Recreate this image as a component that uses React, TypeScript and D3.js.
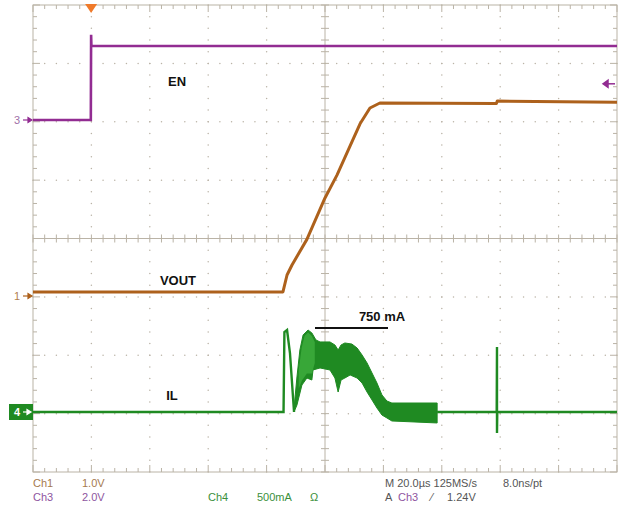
import React from 'react';
import * as d3 from 'd3';

// Time axis (µs), 20 µs/div, 10 divisions
const timeTicks = [-100, -80, -60, -40, -20, 0, 20, 40, 60, 80, 100];
const divTicks = [-4, -3, -2, -1, 0, 1, 2, 3, 4];

// Ch3 EN (V)
const enT = [-100, -80.2, -80.1, -80.0, -79.8, 100];
const enV = [0, 0, 2.92, 2.55, 2.535, 2.535];

// Ch1 VOUT (V)
const voutT = [-100, -14.4, -13.0, -11.3, -6.2, 0, 4.1, 8.6, 12.0, 15.4, 18.8, 58.7, 59.0, 100];
const voutV = [0.069, 0.069, 0.36, 0.531, 0.97, 1.68, 2.07, 2.57, 2.95, 3.22, 3.306, 3.297, 3.34, 3.32];

// Ch4 IL (A) – single trace parts
const ilStartT = [-100, -14.2, -13.9, -13.0, -12.0, -10.6];
const ilStartA = [0, 0, 0.685, 0.702, 0.505, 0];
const ilEndT = [38.4, 58.8, 58.9, 58.9, 59.0, 100];
const ilEndA = [0, 0, 0.557, -0.18, 0, 0];
// Ch4 IL switching envelope
const ilUpT = [-10.6, -9.6, -8.6, -7.5, -5.8, -4.5, -3.1, -1.7, 1.7, 3.4, 4.5, 5.5, 6.8, 9.2, 11.0, 12.7, 14.4, 16.1, 17.8, 19.5, 21.2, 22.9, 38.4];
const ilUpA = [0.034, 0.3, 0.531, 0.66, 0.702, 0.677, 0.617, 0.6, 0.6, 0.574, 0.531, 0.574, 0.591, 0.582, 0.548, 0.488, 0.42, 0.334, 0.248, 0.146, 0.094, 0.077, 0.077];
const ilLoT = [-10.6, -9.6, -7.9, -6.2, -4.5, -4.1, -1.7, 1.7, 3.4, 4.5, 5.5, 6.8, 8.6, 11.0, 12.7, 14.4, 16.1, 17.8, 19.5, 21.2, 22.9, 38.4];
const ilLoA = [0, 0.06, 0.231, 0.291, 0.274, 0.36, 0.377, 0.36, 0.291, 0.171, 0.274, 0.291, 0.317, 0.291, 0.248, 0.171, 0.103, 0.034, -0.026, -0.051, -0.077, -0.094];
// lighter (persistence) region
const ilHiUpT = [-9.0, -8.0, -7.0, -5.8, -4.5, -3.5];
const ilHiUpA = [0.36, 0.55, 0.65, 0.68, 0.65, 0.6];
const ilHiLoT = [-9.0, -7.9, -6.2, -4.5, -3.5];
const ilHiLoA = [0.2, 0.27, 0.33, 0.33, 0.42];

// Annotation: 750 mA marker level (A)
const markerA = 0.72;

// Channel settings
const ch1 = { offset: -0.985, scale: 1.0 };
const ch3 = { offset: 2.03, scale: 2.0 };
const ch4 = { offset: -2.972, scale: 0.5 };
const triggerT = -80.1;
const triggerLevel = 1.24;

const X0 = 33, X1 = 617, Y0 = 5, Y1 = 472;
const x = d3.scaleLinear().domain([-100, 100]).range([X0, X1]);
const yDiv = d3.scaleLinear().domain([-4, 4]).range([Y1, Y0]);
const yOf = (ch: { offset: number; scale: number }, v: number) => yDiv(ch.offset + v / ch.scale);

const C_EN = '#922c92';
const C_VOUT = '#ad611c';
const C_IL = '#1f8a22';
const C_GRID = '#bab3a6';

function linePath(ts: number[], vs: number[], ch: any) {
  return d3.line<number>().x((_, i) => x(ts[i])).y((_, i) => yOf(ch, vs[i]))(ts) || '';
}
function polyPath(uT: number[], uA: number[], lT: number[], lA: number[], ch: any) {
  const pts: [number, number][] = uT.map((t, i) => [x(t), yOf(ch, uA[i])] as [number, number]);
  for (let i = lT.length - 1; i >= 0; i--) pts.push([x(lT[i]), yOf(ch, lA[i])]);
  return (d3.line()(pts) || '') + 'Z';
}

export default function App() {
  const minorT = d3.range(-100, 100.001, 4);
  const minorD = d3.range(-4, 4.001, 0.2);
  const dots: JSX.Element[] = [];
  timeTicks.slice(1, -1).forEach((t) => {
    if (t === 0) return;
    minorD.forEach((d, j) => dots.push(<circle key={`v${t}_${j}`} cx={x(t)} cy={yDiv(d)} r={0.75} fill={C_GRID} />));
  });
  divTicks.slice(1, -1).forEach((d) => {
    if (d === 0) return;
    minorT.forEach((t, j) => dots.push(<circle key={`h${d}_${j}`} cx={x(t)} cy={yDiv(d)} r={0.75} fill={C_GRID} />));
  });
  const ticks: JSX.Element[] = [];
  minorT.forEach((t, j) => {
    const major = Math.abs(t % 20) < 1e-6;
    const len = major ? 7 : 4;
    ticks.push(<line key={`tt${j}`} x1={x(t)} x2={x(t)} y1={Y0} y2={Y0 + len} />);
    ticks.push(<line key={`tb${j}`} x1={x(t)} x2={x(t)} y1={Y1} y2={Y1 - len} />);
    ticks.push(<line key={`tc${j}`} x1={x(t)} x2={x(t)} y1={yDiv(0) - 4} y2={yDiv(0) + 4} />);
  });
  minorD.forEach((d, j) => {
    const major = Math.abs(d - Math.round(d)) < 1e-6;
    const len = major ? 7 : 4;
    ticks.push(<line key={`tl${j}`} x1={X0} x2={X0 + len} y1={yDiv(d)} y2={yDiv(d)} />);
    ticks.push(<line key={`tr${j}`} x1={X1} x2={X1 - len} y1={yDiv(d)} y2={yDiv(d)} />);
    ticks.push(<line key={`tm${j}`} x1={x(0) - 4} x2={x(0) + 4} y1={yDiv(d)} y2={yDiv(d)} />);
  });

  const font = 'Arial, "Liberation Sans", sans-serif';
  const trigX = x(triggerT);
  const en0 = yOf(ch3, 0), v0 = yOf(ch1, 0), i0 = yOf(ch4, 0);
  const trigY = yOf(ch3, triggerLevel);
  const markY = yOf(ch4, markerA);

  return (
    <svg width={620} height={510} style={{ position: 'absolute', left: 0, top: 0, background: '#fff' }}>
      <rect x={0} y={0} width={620} height={510} fill="#fff" />
      <g>{dots}</g>
      <g stroke={C_GRID} strokeWidth={1}>
        <rect x={X0} y={Y0} width={X1 - X0} height={Y1 - Y0} fill="none" />
        <line x1={x(0)} x2={x(0)} y1={Y0} y2={Y1} />
        <line x1={X0} x2={X1} y1={yDiv(0)} y2={yDiv(0)} />
        {ticks}
      </g>

      {/* traces */}
      <path d={linePath(enT, enV, ch3)} fill="none" stroke={C_EN} strokeWidth={2.6} />
      <path d={linePath(voutT, voutV, ch1)} fill="none" stroke={C_VOUT} strokeWidth={3} strokeLinejoin="round" />
      <path d={polyPath(ilUpT, ilUpA, ilLoT, ilLoA, ch4)} fill={C_IL} stroke={C_IL} strokeWidth={1} />
      <path d={polyPath(ilHiUpT, ilHiUpA, ilHiLoT, ilHiLoA, ch4)} fill="#3fae3f" stroke="none" opacity={0.8} />
      <path d={linePath(ilStartT, ilStartA, ch4)} fill="none" stroke={C_IL} strokeWidth={2.4} />
      <path d={linePath(ilEndT, ilEndA, ch4)} fill="none" stroke={C_IL} strokeWidth={2.4} />

      {/* trigger marker */}
      <path d={`M${trigX - 6},${Y0 - 1} L${trigX + 6},${Y0 - 1} L${trigX},${Y0 + 8} Z`} fill="#f07a2a" />
      <g stroke={C_EN} strokeWidth={1.5} fill={C_EN}>
        <line x1={604} x2={615} y1={trigY} y2={trigY} />
        <path d={`M${603},${trigY} L${608},${trigY - 3.5} L${608},${trigY + 3.5} Z`} />
      </g>

      {/* channel ground markers */}
      <text x={17} y={en0 + 4} fontFamily={font} fontSize={11} fill="#a070a8" textAnchor="middle">3</text>
      <g stroke={C_EN} fill={C_EN} strokeWidth={1.2}>
        <line x1={23} x2={30} y1={en0} y2={en0} />
        <path d={`M32,${en0} L28,${en0 - 2.5} L28,${en0 + 2.5} Z`} />
      </g>
      <text x={17} y={v0 + 4} fontFamily={font} fontSize={11} fill="#b08050" textAnchor="middle">1</text>
      <g stroke={C_VOUT} fill={C_VOUT} strokeWidth={1.2}>
        <line x1={23} x2={30} y1={v0} y2={v0} />
        <path d={`M32,${v0} L28,${v0 - 2.5} L28,${v0 + 2.5} Z`} />
      </g>
      <rect x={9} y={i0 - 8} width={24} height={16} fill={C_IL} />
      <text x={17} y={i0 + 4} fontFamily={font} fontSize={11} fill="#fff" fontWeight="bold" textAnchor="middle">4</text>
      <g stroke="#fff" fill="#fff" strokeWidth={1.2}>
        <line x1={23} x2={29} y1={i0} y2={i0} />
        <path d={`M31,${i0} L27,${i0 - 2.5} L27,${i0 + 2.5} Z`} />
      </g>

      {/* annotations */}
      <g fontFamily={font} fontWeight="bold" fontSize={13} fill="#111" textAnchor="middle">
        <text x={177} y={86}>EN</text>
        <text x={178} y={285}>VOUT</text>
        <text x={172} y={400}>IL</text>
        <text x={382} y={321}>750 mA</text>
      </g>
      <line x1={315} x2={388} y1={markY} y2={markY} stroke="#111" strokeWidth={2} />

      {/* status text */}
      <g fontFamily={font} fontSize={11}>
        <text x={33} y={487} fill="#a57a4e">Ch1</text>
        <text x={82} y={487} fill="#a57a4e">1.0V</text>
        <text x={33} y={501} fill="#8e55a0">Ch3</text>
        <text x={82} y={501} fill="#8e55a0">2.0V</text>
        <text x={208} y={501} fill="#3b8f3b">Ch4</text>
        <text x={257} y={501} fill="#3b8f3b">500mA</text>
        <text x={310} y={501} fill="#3b8f3b">Ω</text>
        <text x={385} y={487} fill="#555">M 20.0µs 125MS/s</text>
        <text x={503} y={487} fill="#555">8.0ns/pt</text>
        <text x={385} y={501} fill="#555">A</text>
        <text x={398} y={501} fill="#8e55a0">Ch3</text>
        <text x={431} y={501} fill="#555">⁄</text>
        <text x={447} y={501} fill="#555">1.24V</text>
      </g>
    </svg>
  );
}
